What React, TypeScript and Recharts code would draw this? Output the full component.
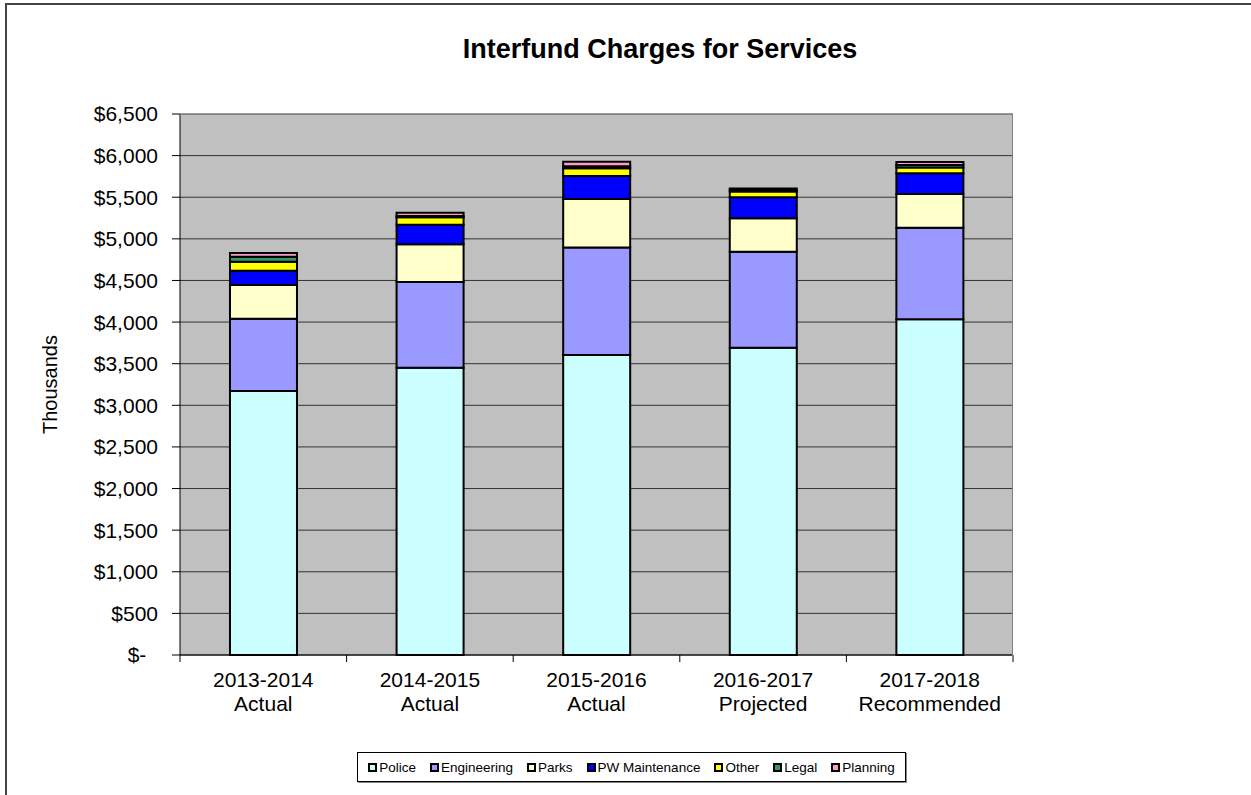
import React from "react";
import { BarChart, Bar, XAxis, YAxis, CartesianGrid, Label } from "recharts";

// Fiscal periods and their budget stage
const periods = ["2013-2014", "2014-2015", "2015-2016", "2016-2017", "2017-2018"];
const stages = ["Actual", "Actual", "Actual", "Projected", "Recommended"];

// Interfund charges by department, in thousands of dollars
const police = [3172, 3452, 3605, 3692, 4033];
const engineering = [868, 1030, 1292, 1154, 1101];
const parks = [405, 453, 582, 401, 405];
const pwMaintenance = [172, 235, 276, 252, 248];
const other = [109, 89, 93, 70, 70];
const legal = [60, 15, 25, 16, 30];
const planning = [45, 40, 52, 20, 36];

const yTicks = [0, 500, 1000, 1500, 2000, 2500, 3000, 3500, 4000, 4500, 5000, 5500, 6000, 6500];

const seriesNames = ["Police", "Engineering", "Parks", "PW Maintenance", "Other", "Legal", "Planning"];
const seriesKeys = ["police", "engineering", "parks", "pw", "other", "legal", "planning"];
const seriesColors = ["#CCFFFF", "#9999FF", "#FFFFCC", "#0000FF", "#FFFF00", "#339966", "#FF99CC"];
const seriesValues = [police, engineering, parks, pwMaintenance, other, legal, planning];

const rows = periods.map((period, i) => {
  const row: Record<string, string | number> = { period };
  seriesKeys.forEach((k, s) => {
    row[k] = seriesValues[s][i];
  });
  return row;
});

const FONT = "'Liberation Sans', Arial, Helvetica, sans-serif";

const formatDollars = (v: number) =>
  v === 0 ? "$-\u00a0\u00a0" : "$" + v.toLocaleString("en-US");

// Two-line category label plus Excel-style tick marks between categories
function PeriodTick(props: any) {
  const { x, y, payload, index, visibleTicksCount } = props;
  const i = periods.indexOf(payload.value);
  const half = payload.offset || 0;
  return (
    <g>
      <line x1={x - half} x2={x - half} y1={y} y2={y + 7} stroke="#000" strokeWidth={1} />
      {index === visibleTicksCount - 1 && (
        <line x1={x + half} x2={x + half} y1={y} y2={y + 7} stroke="#000" strokeWidth={1} />
      )}
      <text textAnchor="middle" fontSize={21} fontFamily={FONT} fill="#000">
        <tspan x={x} y={y + 32}>{payload.value}</tspan>
        <tspan x={x} y={y + 56}>{stages[i]}</tspan>
      </text>
    </g>
  );
}

export default function App() {
  return (
    <div
      style={{
        position: "absolute",
        left: 0,
        top: 0,
        width: 1251,
        height: 795,
        background: "#fff",
        overflow: "hidden",
        fontFamily: FONT,
      }}
    >
      <div
        style={{
          position: "absolute",
          left: 5,
          top: 3,
          width: 1300,
          height: 850,
          borderTop: "2px solid #444",
          borderLeft: "2px solid #444",
        }}
      />
      <div style={{ position: "absolute", left: 0, top: 0 }}>
        <BarChart
          width={1251}
          height={795}
          data={rows}
          margin={{ top: 114, right: 238, bottom: 0, left: 0 }}
          barCategoryGap="30%"
        >
          <CartesianGrid fill="#C0C0C0" vertical={false} stroke="#333" strokeOpacity={1} />
          <XAxis
            dataKey="period"
            height={140}
            interval={0}
            tickLine={false}
            tickSize={0}
            tickMargin={0}
            axisLine={{ stroke: "#000", strokeWidth: 1 }}
            tick={<PeriodTick />}
          />
          <YAxis
            width={180}
            domain={[0, 6500]}
            ticks={yTicks}
            interval={0}
            tickSize={8}
            tickMargin={14}
            tickFormatter={formatDollars}
            axisLine={{ stroke: "#000", strokeWidth: 1 }}
            tickLine={{ stroke: "#000", strokeWidth: 1 }}
            tick={{ fill: "#000", fontSize: 21, fontFamily: FONT }}
          >
            <Label
              value="Thousands"
              angle={-90}
              position="insideLeft"
              offset={50}
              style={{ textAnchor: "middle", fontSize: 20, fontFamily: FONT, fill: "#000" }}
            />
          </YAxis>
          {seriesKeys.map((k, s) => (
            <Bar
              key={k}
              dataKey={k}
              name={seriesNames[s]}
              stackId="charges"
              fill={seriesColors[s]}
              stroke="#000"
              strokeWidth={2}
              isAnimationActive={false}
            />
          ))}
        </BarChart>
      </div>
      {/* plot area outline on the top and right */}
      <div
        style={{
          position: "absolute",
          left: 180,
          top: 114,
          width: 832,
          height: 541,
          borderTop: "1px solid #808080",
          borderRight: "1px solid #808080",
          pointerEvents: "none",
        }}
      />
      <div
        style={{
          position: "absolute",
          left: 360,
          top: 36,
          width: 600,
          textAlign: "center",
          fontSize: 27,
          fontWeight: "bold",
          lineHeight: "27px",
          color: "#000",
        }}
      >
        Interfund Charges for Services
      </div>
      <div
        style={{
          position: "absolute",
          left: 357,
          top: 752,
          width: 547,
          height: 28,
          border: "1px solid #000",
          boxShadow: "1px 1px 0 #888",
          display: "flex",
          alignItems: "center",
          justifyContent: "center",
          gap: 14,
          fontSize: 13.5,
          color: "#000",
          boxSizing: "content-box",
        }}
      >
        {seriesNames.map((n, s) => (
          <div key={n} style={{ display: "flex", alignItems: "center" }}>
            <span
              style={{
                display: "inline-block",
                width: 5,
                height: 5,
                background: seriesColors[s],
                border: "2px solid #000",
                marginRight: 2,
              }}
            />
            <span>{n}</span>
          </div>
        ))}
      </div>
    </div>
  );
}
